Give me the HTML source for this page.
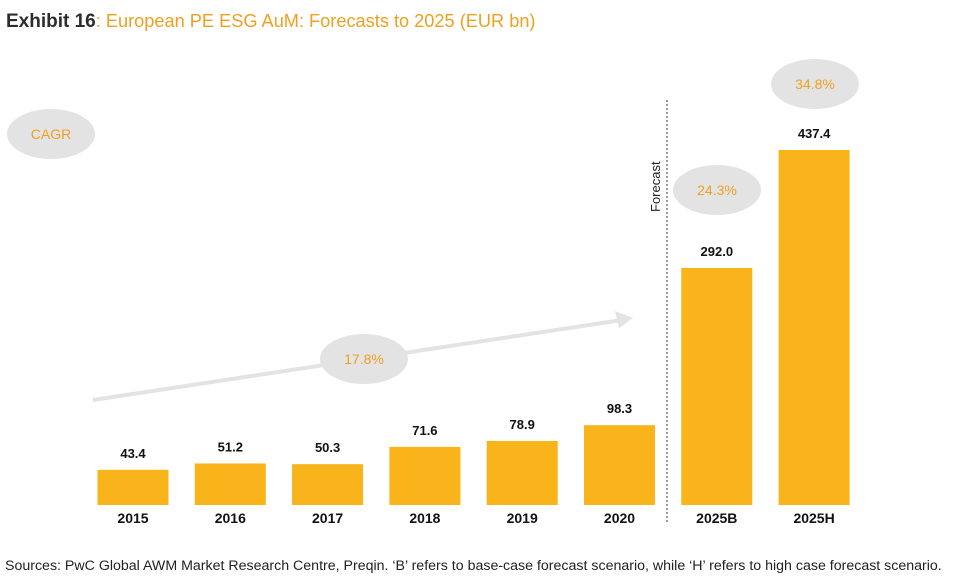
<!DOCTYPE html>
<html><head><meta charset="utf-8"><style>
body{margin:0;background:#fff;width:954px;height:578px;overflow:hidden;font-family:"Liberation Sans",Arial,sans-serif}
</style></head><body>
<svg width="954" height="578" xmlns="http://www.w3.org/2000/svg">
<text x="6" y="27" font-size="19" font-weight="bold" fill="#2d2d2d">Exhibit 16<tspan font-weight="normal" font-size="18.2" fill="#f0a020">: European PE ESG AuM: Forecasts to 2025 (EUR bn)</tspan></text>
<ellipse cx="51" cy="134" rx="44" ry="25" fill="#e3e3e3"/>
<text x="51" y="139" font-size="14" fill="#f0a020" text-anchor="middle">CAGR</text>
<line x1="93" y1="400" x2="622" y2="320" stroke="#e3e3e3" stroke-width="4"/>
<polygon points="633,318 615,311 619,328" fill="#e3e3e3"/>
<ellipse cx="364" cy="359" rx="44" ry="25" fill="#e3e3e3"/>
<text x="364" y="364" font-size="14" fill="#f0a020" text-anchor="middle">17.8%</text>
<ellipse cx="717" cy="190" rx="44" ry="25" fill="#e3e3e3"/>
<text x="717" y="195" font-size="14" fill="#f0a020" text-anchor="middle">24.3%</text>
<ellipse cx="815" cy="84" rx="44" ry="25" fill="#e3e3e3"/>
<text x="815" y="89" font-size="14" fill="#f0a020" text-anchor="middle">34.8%</text>
<line x1="667" y1="100" x2="667" y2="522" stroke="#333" stroke-width="1" stroke-dasharray="2,2"/>
<text transform="translate(660,212) rotate(-90)" font-size="13" fill="#222">Forecast</text>
<g id="bars"></g>
<text x="5" y="570" font-size="14.2" fill="#222">Sources: PwC Global AWM Market Research Centre, Preqin. ‘B’ refers to base-case forecast scenario, while ‘H’ refers to high case forecast scenario.</text>
</svg>
<script>
const categories=["2015","2016","2017","2018","2019","2020","2025B","2025H"];
const values=[43.4,51.2,50.3,71.6,78.9,98.3,292.0,437.4];
const labels=["43.4","51.2","50.3","71.6","78.9","98.3","292.0","437.4"];
const g=document.getElementById('bars');
const NS="http://www.w3.org/2000/svg";
const base=505, k=355/437.4;
function xC(i){return 133+i*97.3;}
function yV(v){return base-v*k;}
categories.forEach((c,i)=>{
 const r=document.createElementNS(NS,'rect');
 r.setAttribute('x',xC(i)-35.5);r.setAttribute('y',yV(values[i]));
 r.setAttribute('width',71);r.setAttribute('height',base-yV(values[i]));
 r.setAttribute('fill','#f8b41a');
 
 
 g.appendChild(r);
 const t=document.createElementNS(NS,'text');
 t.setAttribute('x',xC(i));t.setAttribute('y',yV(values[i])-12);
 t.setAttribute('text-anchor','middle');t.setAttribute('font-size','13');t.setAttribute('font-weight','bold');t.setAttribute('fill','#111');
 t.textContent=labels[i];
 
 
 g.appendChild(t);
 const x=document.createElementNS(NS,'text');
 x.setAttribute('x',xC(i));x.setAttribute('y',523);
 x.setAttribute('text-anchor','middle');x.setAttribute('font-size','14');x.setAttribute('font-weight','bold');x.setAttribute('fill','#111');
 x.textContent=c;
 
 
 g.appendChild(x);
});
</script>
</body></html>
